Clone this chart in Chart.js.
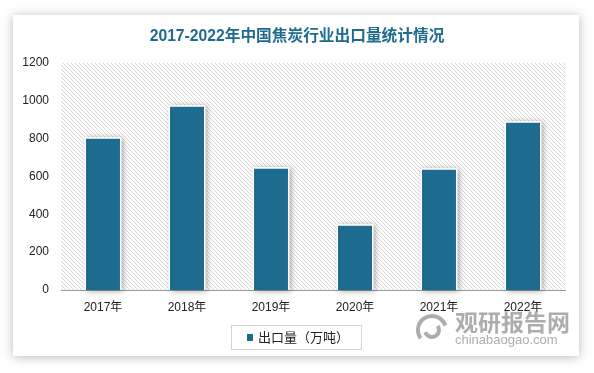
<!DOCTYPE html>
<html>
<head>
<meta charset="utf-8">
<script src="https://cdn.jsdelivr.net/npm/chart.js@4"></script>
<style>
  html, body { margin: 0; padding: 0; background: #ffffff; }
  body { width: 594px; height: 373px; position: relative; overflow: hidden; }
  #card { position: absolute; left: 13px; top: 15px; width: 566px; height: 341px; background: #fff;
          box-shadow: 0 1px 10px rgba(0,0,0,0.28); }
  #wrap { position: absolute; left: 0; top: 0; width: 594px; height: 373px; }
</style>
</head>
<body>
<div id="card"></div>
<div id="wrap"><canvas id="c" width="594" height="373"></canvas></div>
<script>
const titleText = '2017-2022年中国焦炭行业出口量统计情况';
const categories = ['2017年', '2018年', '2019年', '2020年', '2021年', '2022年'];
const seriesName = '出口量（万吨）';
const exportValues = [807, 976, 649, 347, 643, 892];
const yTicks = [0, 200, 400, 600, 800, 1000, 1200];

const BAR_COLOR = '#1d6b8e';
const LATIN = "'Liberation Sans', 'Noto Sans CJK SC', sans-serif";
const CJK = "'Noto Sans CJK SC', sans-serif";

function makePattern(ctx) {
  const p = document.createElement('canvas');
  p.width = 4; p.height = 4;
  const pc = p.getContext('2d');
  pc.fillStyle = '#ffffff';
  pc.fillRect(0, 0, 4, 4);
  pc.fillStyle = '#d8d8d8';
  for (let i = 0; i < 4; i++) pc.fillRect(i, i, 1, 1);
  return ctx.createPattern(p, 'repeat');
}

const decor = {
  id: 'decor',
  beforeDraw(chart) {
    const { ctx, chartArea: a } = chart;
    ctx.save();
    ctx.fillStyle = makePattern(ctx);
    ctx.fillRect(a.left, a.top, a.right - a.left, a.bottom - a.top);
    ctx.restore();
  },
  beforeDatasetsDraw(chart) {
    const { ctx } = chart;
    const meta = chart.getDatasetMeta(0);
    ctx.save();
    ctx.shadowColor = 'rgba(0,0,0,0.35)';
    ctx.shadowBlur = 6;
    ctx.shadowOffsetX = 2;
    ctx.shadowOffsetY = 1;
    ctx.fillStyle = '#ffffff';
    meta.data.forEach(el => {
      const top = Math.min(el.y, el.base);
      const h = Math.abs(el.base - el.y);
      ctx.fillRect(el.x - el.width / 2, top, el.width, h);
    });
    ctx.restore();
  },
  afterDraw(chart) {
    const { ctx } = chart;
    ctx.save();
    // title
    ctx.fillStyle = '#1f6b8e';
    ctx.font = "bold 15.7px " + LATIN;
    ctx.textAlign = 'center';
    ctx.textBaseline = 'middle';
    ctx.fillText(titleText, 297, 37);
    // legend
    ctx.strokeStyle = '#d4d4d4';
    ctx.lineWidth = 1;
    ctx.strokeRect(231.5, 325.5, 130, 24);
    ctx.fillStyle = chart.data.datasets[0].backgroundColor;
    ctx.fillRect(247, 334, 6, 7);
    ctx.fillStyle = '#222222';
    ctx.font = "13px " + CJK;
    ctx.textAlign = 'left';
    ctx.fillText(chart.data.datasets[0].label, 258, 337.5);
    // watermark
    ctx.globalAlpha = 0.7;
    ctx.fillStyle = '#8a8a8a';
    ctx.strokeStyle = '#8a8a8a';
    ctx.font = "bold 23px " + CJK;
    ctx.textAlign = 'left';
    ctx.fillText('观研报告网', 455, 322);
    ctx.font = "13px " + LATIN;
    ctx.fillText('chinabaogao.com', 455, 340);
    ctx.lineWidth = 4;
    ctx.beginPath();
    ctx.arc(432, 330, 14, Math.PI * 0.8, Math.PI * 1.9);
    ctx.stroke();
    ctx.beginPath();
    ctx.arc(432, 330, 7, Math.PI * 1.8, Math.PI * 0.9);
    ctx.stroke();
    ctx.restore();
  }
};

new Chart(document.getElementById('c'), {
  type: 'bar',
  data: {
    labels: categories,
    datasets: [{
      label: seriesName,
      data: exportValues,
      backgroundColor: BAR_COLOR,
      borderColor: '#ffffff',
      borderWidth: 1.5,
      categoryPercentage: 1,
      barPercentage: 0.44
    }]
  },
  options: {
    responsive: false,
    animation: false,
    devicePixelRatio: 1,
    layout: { padding: { left: 0, right: 29, top: 63, bottom: 53 } },
    plugins: {
      legend: { display: false },
      title: { display: false },
      tooltip: { enabled: false }
    },
    scales: {
      x: {
        grid: { display: false, drawTicks: false },
        border: { display: true, color: '#9a9a9a', width: 1 },
        ticks: { color: '#222222', font: { family: LATIN, size: 12 }, padding: 10, maxRotation: 0 },
        afterFit(s) { s.height = 30; }
      },
      y: {
        min: 0, max: 1200,
        grid: { display: false, drawTicks: false },
        border: { display: false },
        afterBuildTicks(s) { s.ticks = yTicks.map(v => ({ value: v })); },
        ticks: { color: '#222222', font: { family: LATIN, size: 12 }, padding: 12,
                 callback: v => String(v) },
        afterFit(s) { s.width = 61; }
      }
    }
  },
  plugins: [decor]
});
</script>
</body>
</html>
